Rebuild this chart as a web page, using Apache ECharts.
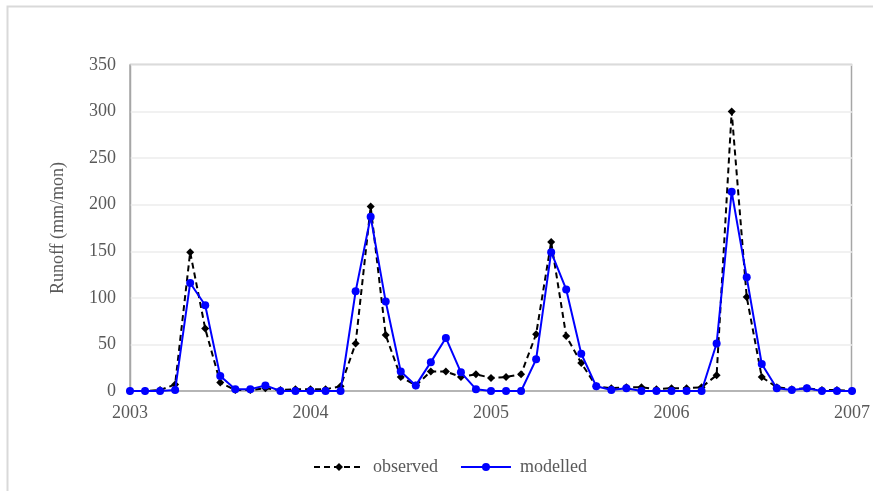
<!DOCTYPE html>
<html>
<head>
<meta charset="utf-8">
<script src="https://cdn.jsdelivr.net/npm/echarts@6/dist/echarts.min.js"></script>
<style>
  html, body { margin: 0; padding: 0; background: #fff; }
  #chart { width: 873px; height: 491px; }
</style>
</head>
<body>
<div id="chart"></div>
<script>
// Monthly runoff (mm/mon), January 2003 through January 2007
const startYear = 2003;
const yearTicks = [2003, 2004, 2005, 2006, 2007];
const observed = [
  0, 0, 1, 7, 149, 67, 9, 1, 1, 3, 1, 2,
  2, 2, 5, 51, 198, 60, 15, 6, 21, 21, 15, 18,
  14, 15, 18, 61, 160, 59, 30, 5, 3, 4, 4, 2,
  3, 3, 4, 17, 300, 101, 15, 4, 2, 3, 1, 1,
  0
];
const modelled = [
  0, 0, 0, 1, 116, 92, 16, 2, 2, 6, 0, 0,
  0, 0, 0, 107, 187, 96, 21, 6, 31, 57, 20, 2,
  0, 0, 0, 34, 149, 109, 40, 5, 1, 3, 0, 0,
  0, 0, 0, 51, 214, 122, 29, 3, 1, 3, 0, 0,
  0
];

const toPoints = arr => arr.map((v, i) => [startYear + i / 12, v]);

const serif = '"Liberation Serif", "Times New Roman", serif';
const textGray = '#595959';

const chart = echarts.init(document.getElementById('chart'), null, { renderer: 'canvas' });
chart.setOption({
  animation: false,
  backgroundColor: '#fff',
  graphic: [{
    type: 'rect',
    shape: { x: 7.5, y: 6.5, width: 900, height: 520 },
    style: { fill: 'none', stroke: '#d9d9d9', lineWidth: 2 },
    silent: true,
    z: -1
  }, {
    type: 'rect',
    shape: { x: 130.5, y: 64.5, width: 721, height: 326.5 },
    style: { fill: 'none', stroke: '#a6a6a6', lineWidth: 1.5 },
    silent: true,
    z: 0
  }],
  grid: { left: 130, right: 21, top: 65, bottom: 100 },
  legend: {
    bottom: 10,
    left: 308,
    itemWidth: 50,
    itemHeight: 10,
    itemGap: 22,
    textStyle: { fontFamily: serif, fontSize: 18, color: textGray, padding: [0, 0, 0, 4] },
    data: ['observed', 'modelled']
  },
  xAxis: {
    type: 'value',
    min: yearTicks[0],
    max: yearTicks[yearTicks.length - 1],
    interval: 1,
    axisLine: { show: true, lineStyle: { color: '#a6a6a6', width: 1.5 } },
    axisTick: { show: false },
    splitLine: { show: false },
    axisLabel: {
      margin: 13,
      fontFamily: serif, fontSize: 18, color: textGray,
      formatter: v => String(v)
    }
  },
  yAxis: {
    type: 'value',
    min: 0,
    max: 350,
    interval: 50,
    name: 'Runoff (mm/mon)',
    nameLocation: 'middle',
    nameGap: 63,
    nameTextStyle: { fontFamily: serif, fontSize: 18, color: textGray },
    axisLine: { show: true, lineStyle: { color: '#a6a6a6', width: 1.5 } },
    axisTick: { show: false },
    splitLine: { show: true, lineStyle: { color: '#ececec', width: 1.5 } },
    axisLabel: { margin: 14, fontFamily: serif, fontSize: 18, color: textGray }
  },
  series: [{
    name: 'observed',
    type: 'line',
    data: toPoints(observed),
    symbol: 'diamond',
    symbolSize: 8,
    itemStyle: { color: '#000' },
    lineStyle: { color: '#000', width: 2, type: [6, 4] },
    z: 2
  }, {
    name: 'modelled',
    type: 'line',
    data: toPoints(modelled),
    symbol: 'circle',
    symbolSize: 8,
    itemStyle: { color: '#0000ff' },
    lineStyle: { color: '#0000ff', width: 2 },
    z: 3
  }]
});
</script>
</body>
</html>
